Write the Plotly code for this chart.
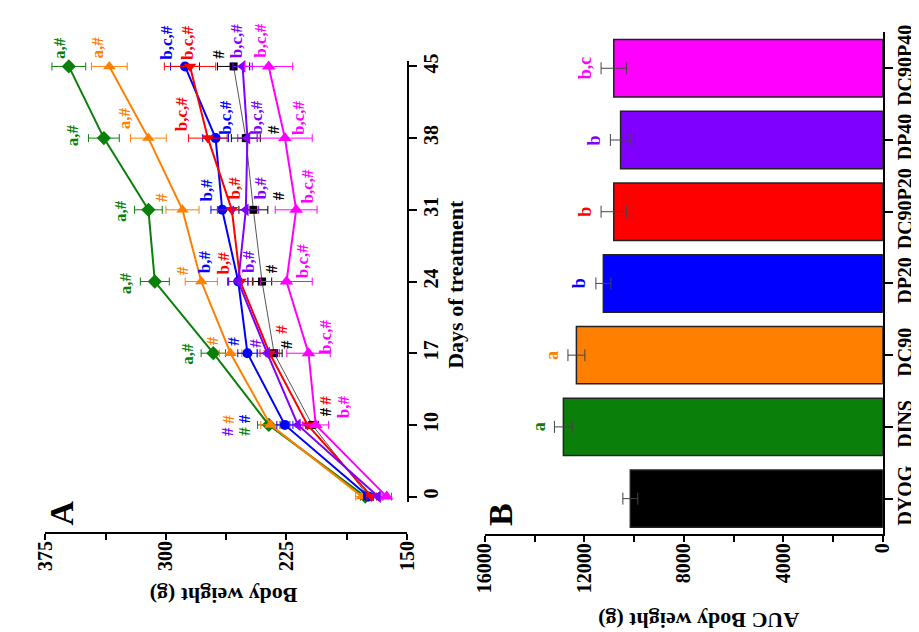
import plotly.graph_objects as go

# ---------------- data ----------------
days = ["0", "10", "17", "24", "31", "38", "45"]
groups = ["DYOG", "DINS", "DC90", "DP20", "DC90P20", "DP40", "DC90P40"]

bw_DYOG = [174, 209, 232.7, 240.2, 245.6, 250.3, 257.9]
bw_DINS = [176, 236, 270.5, 306.9, 310.9, 338.6, 360.4]
bw_DC90 = [178, 235, 259.8, 278, 289.7, 310.9, 335.2]
bw_DP20 = [174, 226, 249.3, 255, 265, 269.1, 288.1]
bw_DC90P20 = [172, 211.9, 235.5, 253.7, 259, 273.9, 285]
bw_DP40 = [168, 217.9, 237, 255, 250.3, 249.3, 252.3]
bw_DC90P40 = [162.7, 206.8, 211.3, 225, 219, 226, 236.1]

err_DYOG = [3, 4, 5, 6, 9, 9, 10]
err_DINS = [3, 7, 7.6, 9, 8.6, 9.6, 10.5]
err_DC90 = [4, 6, 7, 10, 10.3, 11.1, 11.1]
err_DP20 = [3, 5, 6, 6, 7, 8, 9]
err_DC90P20 = [3, 5, 6, 8, 9, 12, 16]
err_DP40 = [3, 5, 6, 6, 8, 6, 6]
err_DC90P40 = [3, 8, 13.5, 16, 13, 17, 15]

auc = [10150, 12840, 12317, 11234, 10815, 10541, 10815]
auc_err = [300, 360, 340, 300, 510, 410, 510]
auc_letters = ["", "a", "a", "b", "b", "b", "b,c"]

# significance labels of panel A: (group, text, weight, day index)
sig_group = ["DINS", "DC90", "DP20", "DC90P20", "DYOG", "DP40", "DC90P40",
             "DINS", "DC90", "DC90P20", "DP20", "DYOG", "DP40", "DC90P40",
             "DINS", "DC90", "DP20", "DC90P20", "DP40", "DYOG", "DC90P40",
             "DINS", "DC90", "DP20", "DC90P20", "DP40", "DYOG", "DC90P40",
             "DINS", "DC90", "DP20", "DP40", "DC90P20", "DYOG", "DC90P40",
             "DC90", "DP20", "DP40", "DINS", "DC90P20", "DYOG", "DC90P40"]
sig_text = ["a,#", "a,#", "b,c,#", "b,c,#", "#", "b,c,#", "b,c,#",
            "a,#", "a,#", "b,c,#", "b,c,#", "#", "b,c,#", "b,c,#",
            "a,#", "#", "b,#", "b,#", "b,#", "#", "b,c,#",
            "a,#", "#", "b,#", "b,#", "b,#", "#", "b,c,#",
            "a,#", "#", "#", "#", "#", "#", "b,c,#",
            "#", "#", "#", "#", "#", "#", "b,#"]
sig_w = [366.1, 342.3, 299.8, 286.6, 267.8, 256.3, 241.2,
         358.4, 325.7, 290.1, 263.4, 233.1, 244.2, 217.9,
         328.1, 302.8, 274.5, 257.4, 241.2, 230.1, 211.9,
         325.1, 289.7, 275.5, 264.4, 248.3, 234.1, 214.9,
         286.6, 270.5, 257.8, 244.8, 228.1, 225.0, 200.8,
         261.6, 251.3, 261.6, 251.3, 200.8, 200.8, 189.6]
sig_d = [6.25, 6.26, 6.33, 6.33, 6.17, 6.35, 6.36,
         5.04, 5.27, 5.34, 5.29, 5.12, 5.29, 5.29,
         3.98, 4.17, 4.28, 4.30, 4.30, 4.19, 4.33,
         2.97, 3.15, 3.27, 3.25, 3.27, 3.18, 3.29,
         2.00, 2.17, 2.17, 2.14, 2.33, 2.12, 2.23,
         1.08, 1.08, 0.91, 0.91, 1.34, 1.18, 1.25]

# ---------------- styles ----------------
W, H = 919, 632
DAY_PX = 72.5  # pixel spacing between day categories
FONT = "Liberation Serif, Times New Roman, serif"
colors = {"DYOG": "#000000", "DINS": "#0a800a", "DC90": "#ff8000", "DP20": "#0000ff",
          "DC90P20": "#ff0000", "DP40": "#8000ff", "DC90P40": "#ff00ff"}
symbols = {"DYOG": "square", "DINS": "diamond", "DC90": "triangle-up", "DP20": "circle",
           "DC90P20": "triangle-down", "DP40": "triangle-left", "DC90P40": "triangle-up"}
msize = {"DYOG": 8, "DINS": 11, "DC90": 11, "DP20": 10, "DC90P20": 11, "DP40": 11, "DC90P40": 12}

series = {"DYOG": (bw_DYOG, err_DYOG), "DINS": (bw_DINS, err_DINS), "DC90": (bw_DC90, err_DC90),
          "DP20": (bw_DP20, err_DP20), "DC90P20": (bw_DC90P20, err_DC90P20),
          "DP40": (bw_DP40, err_DP40), "DC90P40": (bw_DC90P40, err_DC90P40)}


def px(x):
    return x / W


def py(y):
    return 1 - y / H


fig = go.Figure()

for g in ["DYOG", "DINS", "DC90", "DP20", "DC90P20", "DP40", "DC90P40"]:
    vals, errs = series[g]
    c = colors[g]
    fig.add_trace(go.Scatter(
        x=vals, y=days, mode="lines+markers", xaxis="x", yaxis="y",
        line=dict(color="#555555" if g == "DYOG" else c, width=1 if g == "DYOG" else 2),
        marker=dict(symbol=symbols[g], size=msize[g], color=c, line=dict(width=0)),
        error_x=dict(type="data", array=errs, color=c, thickness=1, width=4),
        cliponaxis=False, showlegend=False))

bar_colors = [colors[g] if g != "DP40" else "#7f00ff" for g in groups]
fig.add_trace(go.Bar(
    y=groups, x=auc, orientation="h", xaxis="x2", yaxis="y2", width=0.8,
    marker=dict(color=bar_colors, line=dict(color="#222222", width=1.5)),
    error_x=dict(type="data", array=auc_err, color="#444444", thickness=1, width=6),
    showlegend=False))

bold = dict(family=FONT, size=20, color="black", weight="bold")
axis_common = dict(showline=True, linecolor="black", linewidth=1.5, ticks="outside",
                   tickcolor="black", tickwidth=1.5, showgrid=False, zeroline=False,
                   tickfont=bold, tickangle=-90)

fig.update_layout(
    width=W, height=H, margin=dict(l=0, r=0, t=0, b=0),
    paper_bgcolor="white", plot_bgcolor="white",
    xaxis=dict(domain=[px(26), px(397)], range=[375, 150], anchor="free", position=py(524),
               tick0=150, dtick=75, ticklen=6, ticklabelstandoff=-7, tickformat="d",
               minor=dict(dtick=37.5, tick0=150, ticks="outside", ticklen=6,
                          tickcolor="black", tickwidth=1.5),
               **axis_common),
    yaxis=dict(domain=[py(492.8), py(46.2)], range=[-0.08, 6.08], type="category",
               categoryorder="array", categoryarray=days, side="right", anchor="x",
               ticklen=8, ticklabelstandoff=-3, **axis_common),
    xaxis2=dict(domain=[px(476.7), px(885)], range=[16000, 0], anchor="y2",
                tick0=0, dtick=4000, ticklen=6, ticklabelstandoff=-7, tickformat="d",
                minor=dict(dtick=2000, tick0=0, ticks="outside", ticklen=6,
                           tickcolor="black", tickwidth=1.5),
                **axis_common),
    yaxis2=dict(domain=[py(525.3), py(17.6)], range=[-0.5, 6.5], type="category",
                categoryorder="array", categoryarray=groups, side="right", anchor="x2",
                ticklen=8, ticklabelstandoff=-5, **axis_common),
)

ann = []
for g, t, w, d in zip(sig_group, sig_text, sig_w, sig_d):
    base = round(d)
    ann.append(dict(x=w, y=base, yshift=(d - base) * DAY_PX, xref="x", yref="y", text=t,
                    showarrow=False, textangle=-90, xanchor="center", yanchor="middle",
                    font=dict(family=FONT, size=17, color=colors[g], weight="bold")))

for g, v, e, t, c in zip(groups, auc, auc_err, auc_letters, bar_colors):
    if t:
        ann.append(dict(x=v + e, y=g, xref="x2", yref="y2", text=t, showarrow=False,
                        textangle=-90, xshift=-16, xanchor="center", yanchor="middle",
                        font=dict(family=FONT, size=18, color=c, weight="bold")))

title_font = dict(family=FONT, color="black", weight="bold")
for txt, x, y, ang, size in [("Body weight (g)", 209, 587, 180, 22),
                              ("Days of treatment", 447, 272, -90, 22),
                              ("AUC Body weight (g)", 696, 613, 180, 22),
                              ("A", 42, 503, -90, 34),
                              ("B", 493, 505, -90, 34)]:
    ann.append(dict(x=px(x), y=py(y), xref="paper", yref="paper", text=txt, showarrow=False,
                    textangle=ang, xanchor="center", yanchor="middle",
                    font=dict(size=size, **title_font)))
fig.update_layout(annotations=ann)

fig.write_html("out.html")
